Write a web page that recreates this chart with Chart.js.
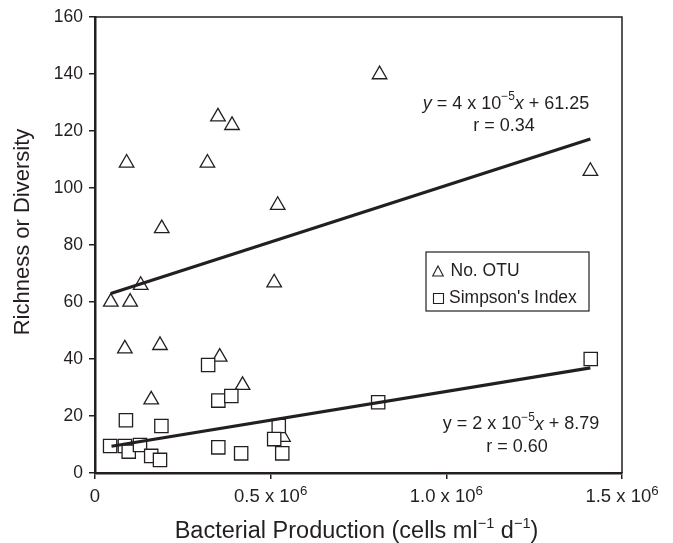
<!DOCTYPE html>
<html>
<head>
<meta charset="utf-8">
<script src="https://cdn.jsdelivr.net/npm/chart.js@4.4.0/dist/chart.umd.min.js"></script>
<style>
  html, body { margin: 0; padding: 0; background: #fff; }
  #wrap { width: 673px; height: 543px; }
</style>
</head>
<body>
<div id="wrap"><canvas id="c" width="673" height="543"></canvas></div>
<script>
// ---- data ----
const otuX = [0.81e6, 0.35e6, 0.39e6, 0.09e6, 0.32e6, 0.52e6, 0.19e6, 1.41e6, 0.13e6, 0.045e6, 0.10e6, 0.51e6, 0.085e6, 0.185e6, 0.355e6, 0.42e6, 0.16e6, 0.535e6];
const otuY = [139.8, 125, 122, 108.8, 108.8, 94, 85.8, 105.9, 65.9, 60, 60, 66.8, 43.6, 44.8, 40.7, 30.8, 25.7, 12.6];
const simX = [0.322e6, 0.351e6, 0.388e6, 0.088e6, 0.189e6, 0.523e6, 0.51e6, 0.043e6, 0.085e6, 0.096e6, 0.128e6, 0.16e6, 0.185e6, 0.351e6, 0.416e6, 0.533e6, 0.806e6, 1.411e6];
const simY = [37.9, 25.4, 27.0, 18.5, 16.5, 16.5, 11.9, 9.5, 9.5, 7.5, 9.8, 6.0, 4.6, 9.0, 6.9, 6.9, 24.8, 40.0];
const otuFitX = [0.045e6, 1.41e6];
const otuFitY = [63.0, 117.2];
const simFitX = [0.047e6, 1.41e6];
const simFitY = [9.4, 36.9];
const xTicks = [0, 0.5e6, 1.0e6, 1.5e6];
const xTickMain = ['0', '0.5 x 10', '1.0 x 10', '1.5 x 10'];
const xTickSup = ['', '6', '6', '6'];
const seriesNames = ['No. OTU', "Simpson's Index"];

const INK = '#231f20';
const FONT = '"Liberation Sans", Arial, Helvetica, sans-serif';

function pts(xs, ys) { return xs.map((x, i) => ({ x: x, y: ys[i] })); }

// rich text helper: parts [{t, it, sup}]
function drawRich(ctx, parts, cx, cy, size, supScale, supRise) {
  supScale = supScale || 0.66;
  supRise = supRise || 0.38;
  const fontFor = (p) => (p.it ? 'italic ' : '') + (p.sup ? (size * supScale).toFixed(1) : size) + 'px ' + FONT;
  let w = 0;
  parts.forEach(p => { ctx.font = fontFor(p); w += ctx.measureText(p.t).width; });
  let x = cx - w / 2;
  ctx.textBaseline = 'middle';
  ctx.textAlign = 'left';
  parts.forEach(p => {
    ctx.font = fontFor(p);
    ctx.fillText(p.t, x, p.sup ? cy - size * supRise : cy);
    x += ctx.measureText(p.t).width;
  });
}

const decor = {
  id: 'decor',
  afterDraw(chart) {
    const ctx = chart.ctx;
    const a = chart.chartArea;
    const xs = chart.scales.x;
    ctx.save();
    ctx.strokeStyle = INK;
    ctx.fillStyle = INK;
    // top and right frame
    ctx.lineWidth = 1.5;
    ctx.beginPath();
    ctx.moveTo(a.left, a.top);
    ctx.lineTo(a.right, a.top);
    ctx.lineTo(a.right, a.bottom);
    ctx.stroke();

    // x tick labels (with superscript exponent)
    xTicks.forEach((v, i) => {
      const px = xs.getPixelForValue(v);
      const parts = [{ t: xTickMain[i] }];
      if (xTickSup[i]) parts.push({ t: xTickSup[i], sup: true });
      drawRich(ctx, parts, px, 497, 18.5, 0.72, 0.31);
    });

    // x axis title
    drawRich(ctx, [
      { t: 'Bacterial Production (cells ml' }, { t: '\u22121', sup: true },
      { t: ' d' }, { t: '\u22121', sup: true }, { t: ')' }
    ], (a.left + a.right) / 2 - 2, 532, 23.5, 0.62, 0.33);

    // y axis title
    ctx.save();
    ctx.translate(23, 232);
    ctx.rotate(-Math.PI / 2);
    ctx.font = '22px ' + FONT;
    ctx.textAlign = 'center';
    ctx.textBaseline = 'middle';
    ctx.fillText('Richness or Diversity', 0, 0);
    ctx.restore();

    // legend box
    ctx.lineWidth = 1.2;
    ctx.strokeRect(426, 252, 163, 59);
    ctx.lineWidth = 1.1;
    ctx.beginPath();
    ctx.moveTo(438, 266);
    ctx.lineTo(443.3, 276);
    ctx.lineTo(432.7, 276);
    ctx.closePath();
    ctx.stroke();
    ctx.beginPath();
    ctx.rect(433.5, 293.5, 10, 10);
    ctx.stroke();
    ctx.font = '17.5px ' + FONT;
    ctx.textAlign = 'left';
    ctx.textBaseline = 'middle';
    ctx.fillText(seriesNames[0], 450.5, 271);
    ctx.fillText(seriesNames[1], 449, 298.5);

    // equations
    const s = 18;
    drawRich(ctx, [{ t: 'y', it: true }, { t: ' = 4 x 10' }, { t: '\u22125', sup: true }, { t: 'x', it: true }, { t: ' + 61.25' }], 506, 104, s);
    drawRich(ctx, [{ t: 'r = 0.34' }], 504, 126.5, s);
    drawRich(ctx, [{ t: 'y = 2 x 10' }, { t: '\u22125', sup: true }, { t: 'x', it: true }, { t: ' + 8.79' }], 521, 424.5, s);
    drawRich(ctx, [{ t: 'r = 0.60' }], 517, 447, s);
    ctx.restore();
  }
};

const markerCommon = {
  borderColor: INK,
  backgroundColor: '#ffffff',
  borderWidth: 1.3,
  showLine: false
};

new Chart(document.getElementById('c'), {
  type: 'scatter',
  data: {
    datasets: [
      { type: 'line', label: 'OTU fit', data: pts(otuFitX, otuFitY), borderColor: INK, borderWidth: 3.2, pointRadius: 0, showLine: true, fill: false },
      { type: 'line', label: 'Simpson fit', data: pts(simFitX, simFitY), borderColor: INK, borderWidth: 3.2, pointRadius: 0, showLine: true, fill: false },
      Object.assign({ label: seriesNames[1], data: pts(simX, simY), pointStyle: 'rect', pointRadius: 9.4 }, markerCommon),
      Object.assign({ label: seriesNames[0], data: pts(otuX, otuY), pointStyle: 'triangle', pointRadius: 8.4 }, markerCommon)
    ]
  },
  options: {
    responsive: false,
    animation: false,
    layout: { padding: { top: 17, right: 51, left: 0, bottom: 0 } },
    plugins: { legend: { display: false }, tooltip: { enabled: false } },
    scales: {
      x: {
        type: 'linear', min: 0, max: 1.5e6,
        afterBuildTicks: (sc) => { sc.ticks = xTicks.map(v => ({ value: v })); },
        afterFit: (sc) => { sc.height = 70; },
        ticks: { display: false },
        grid: { drawOnChartArea: false, drawTicks: true, tickLength: 6, tickColor: INK, lineWidth: 1.5 },
        border: { display: true, color: INK, width: 2.5 }
      },
      y: {
        min: 0, max: 160,
        afterFit: (sc) => { sc.width = 95; },
        ticks: { stepSize: 20, color: INK, font: { size: 17.5, family: FONT }, padding: 6 },
        grid: { drawOnChartArea: false, drawTicks: true, tickLength: 6, tickColor: INK, lineWidth: 1.5 },
        border: { display: true, color: INK, width: 2.5 }
      }
    }
  },
  plugins: [decor]
});
</script>
</body>
</html>
